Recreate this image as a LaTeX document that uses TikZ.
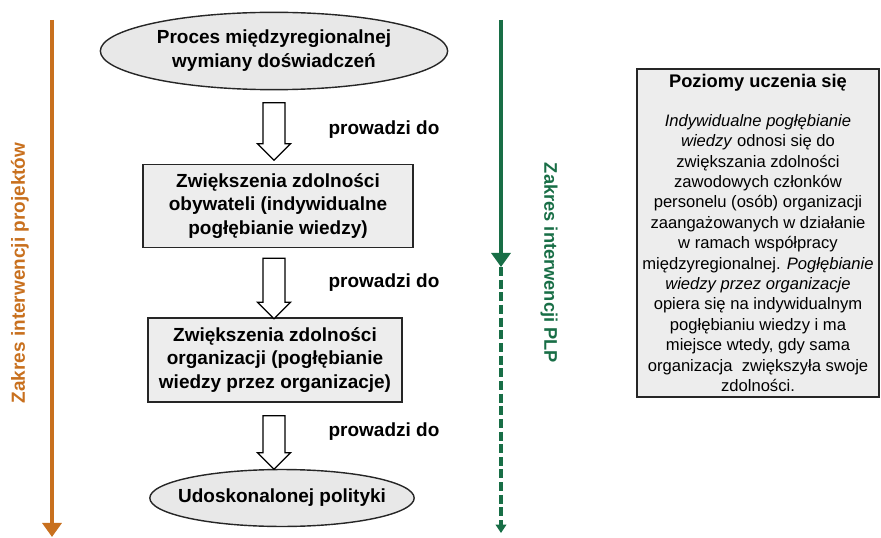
\documentclass[tikz,border=0pt]{standalone}
\usepackage{fontspec}
\setmainfont{Liberation Sans}
\usetikzlibrary{shapes.geometric,shapes.arrows,arrows.meta}
\definecolor{projorange}{RGB}{200,112,30}
\definecolor{plpgreen}{RGB}{24,110,70}

\begin{document}
\begin{tikzpicture}[x=0.025cm,y=-0.025cm]
        \tikzstyle{oval}=[ellipse,draw=black!85,line width=1pt,fill=black!9,inner xsep=-10pt,inner ysep=0pt,align=center,font=\fontsize{13.5}{17}\selectfont\bfseries]
        \tikzstyle{stage}=[rectangle,draw=black!85,line width=1.3pt,fill=black!7,inner sep=1pt,align=center,font=\fontsize{13.5}{17}\selectfont\bfseries]
        \tikzstyle{leads}=[single arrow,rotate=-90,draw=black,line width=0.9pt,fill=white,minimum width=23.5pt,single arrow head extend=3.9pt,inner xsep=0pt,inner ysep=7.4pt]
        \tikzstyle{say}=[font=\fontsize{13.5}{17}\selectfont\bfseries]
        \tikzstyle{scope}=[line width=3.5pt,-{Triangle[width=13.5pt,length=10pt]}]
        \useasboundingbox (0,0) rectangle (881,538);

                \node[oval,minimum width=247pt,minimum height=55pt] (exchange) at (274,51) {Proces międzyregionalnej\\wymiany doświadczeń};
                \node[stage,minimum width=192pt,minimum height=59pt] (citizens) at (278,206) {Zwiększenia zdolności\\obywateli (indywidualne\\pogłębianie wiedzy)};
                \node[stage,minimum width=181pt,minimum height=60pt] (organisations) at (275,360) {Zwiększenia zdolności\\organizacji (pogłębianie\\wiedzy przez organizacje)};
                \node[oval,minimum width=188pt,minimum height=40.5pt] (policy) at (282,498) {Udoskonalonej polityki};

                \foreach \n/\y/\len/\ly in {1/126/41/130, 2/283/43/283, 3/437/38/432}
                {
                        \node[leads,minimum height=\len pt] (lead-\n) at (274,\y) {};
                        \node[say] (say-\n) at (384,\ly) {prowadzi do};
                }

                \node[rectangle,draw=black!85,line width=1.3pt,fill=black!7,minimum width=172pt,minimum height=233pt,inner sep=0pt,align=center,font=\fontsize{11.8}{14.5}\selectfont] (levels) at (758,233)
                        {\textbf{\fontsize{13}{14.5}\selectfont Poziomy uczenia się}\\[13pt]
                        \textit{Indywidualne pogłębianie}\\
                        \textit{wiedzy} odnosi się do\\
                        zwiększania zdolności\\
                        zawodowych członków\\
                        personelu (osób) organizacji\\
                        zaangażowanych w działanie\\
                        w ramach współpracy\\
                        międzyregionalnej. \textit{Pogłębianie}\\
                        \textit{wiedzy przez organizacje}\\
                        opiera się na indywidualnym\\
                        pogłębianiu wiedzy i ma\\
                        miejsce wtedy, gdy sama\\
                        organizacja\ \ zwiększyła swoje\\
                        zdolności.};

                % left scope: projects
                \coordinate (proj-top) at (52,20);
                \coordinate (proj-end) at (52,537);
                \draw[scope,projorange] (proj-top) -- (proj-end);
                \node[rotate=90,text=projorange,font=\fontsize{13.5}{17}\selectfont\bfseries] (proj-label) at (20,273) {Zakres interwencji projektów};

                % right scope: PLP
                \coordinate (plp-top) at (501,20);
                \coordinate (plp-mid) at (501,267);
                \coordinate (plp-end) at (501,533);
                \draw[scope,plpgreen] (plp-top) -- (plp-mid);
                \draw[plpgreen,line width=2.8pt,dash pattern=on 6.4pt off 2.6pt,-{Triangle[width=7.5pt,length=6pt]}] (plp-mid) -- (plp-end);
                \node[rotate=-90,text=plpgreen,font=\fontsize{13}{15}\selectfont\bfseries] (plp-label) at (549,263) {Zakres interwencji PLP};
\end{tikzpicture}
\end{document}
